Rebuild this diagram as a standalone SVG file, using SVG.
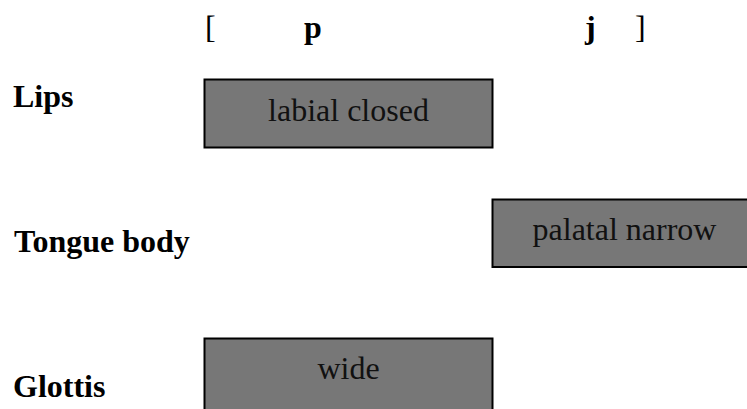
<svg xmlns="http://www.w3.org/2000/svg" width="747" height="409" viewBox="0 0 747 409">
<style>
.box{fill:#777777;stroke:#000000;stroke-width:2}
.bt{font-family:"Liberation Serif",serif;font-size:32px;fill:#111111;text-anchor:middle}
.lab{font-family:"Liberation Serif",serif;font-size:32px;font-weight:bold;fill:#000000}
.hdr{font-family:"Liberation Serif",serif;font-size:32px;fill:#000000}
</style>
<rect width="747" height="409" fill="#ffffff"/>
<g id="header">
<text class="hdr" x="205" y="38">[</text>
<text class="hdr" x="304" y="38" font-weight="bold">p</text>
<text class="hdr" x="585" y="38" font-weight="bold">j</text>
<text class="hdr" x="635" y="38">]</text>
</g>
<g id="row-labels">
<text class="lab" x="13" y="107">Lips</text>
<text class="lab" x="14" y="252">Tongue body</text>
<text class="lab" x="13" y="397">Glottis</text>
</g>
<g id="connectors"></g>
<g id="node-labial">
<rect class="box" x="204.5" y="79.5" width="288" height="68"/>
<text class="bt" x="348.5" y="121">labial closed</text>
</g>
<g id="node-palatal">
<rect class="box" x="492.5" y="199.5" width="264" height="67.5"/>
<text class="bt" x="624.5" y="240">palatal narrow</text>
</g>
<g id="node-wide">
<rect class="box" x="204.5" y="338.5" width="288" height="90"/>
<text class="bt" x="348.5" y="379">wide</text>
</g>
</svg>
